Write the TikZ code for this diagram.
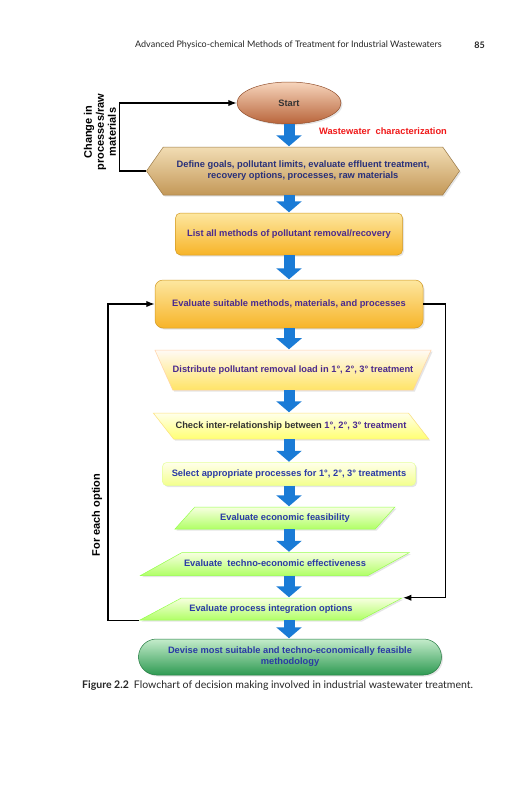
\documentclass[tikz,border=0pt]{standalone}
\usepackage{fontspec}
\setsansfont{Liberation Sans}
\newfontfamily\pagefont{Lato}
\usetikzlibrary{arrows.meta,positioning,shapes.geometric,shapes.symbols,shapes.misc,shadows}
\definecolor{arrowblue}{HTML}{1A7BD6}
\definecolor{navytext}{HTML}{28307A}
\definecolor{purpletext}{HTML}{4B2A8E}
\definecolor{bluetext}{HTML}{2A3AA5}
\definecolor{warnred}{HTML}{F01818}
\definecolor{starttop}{HTML}{F7D5BC}
\definecolor{startbot}{HTML}{B8643A}
\definecolor{goaltop}{HTML}{F2DDB4}
\definecolor{goalbot}{HTML}{C39858}
\definecolor{ambertop}{HTML}{FDE7A0}
\definecolor{amberbot}{HTML}{F7B428}
\definecolor{greentop}{HTML}{C4ECCB}
\definecolor{greenbot}{HTML}{2E9A52}

\begin{document}
\begin{tikzpicture}[x=1pt,y=-1pt,>=Latex, every node/.style={font=\sffamily\bfseries\fontsize{9.3}{11}\selectfont}]
\tikzstyle{pagetext}=[font=\pagefont\fontsize{9}{11}\selectfont,text=black!85,inner sep=0pt]
\tikzstyle{side}=[font=\sffamily\bfseries\fontsize{11}{12}\selectfont,rotate=90,align=center,inner sep=0pt]
\tikzstyle{stage}=[align=center,inner sep=1pt,line width=0.5pt,drop shadow={opacity=0.2,shadow xshift=1.5pt,shadow yshift=-1.5pt}]
\tikzstyle{orangebox}=[stage,rounded corners=5pt,draw=amberbot!85!black,top color=ambertop,bottom color=amberbot,text=purpletext]
\tikzstyle{slanted}=[stage,trapezium,trapezium stretches body,text height=7pt,text depth=2pt,inner xsep=2pt]
\tikzstyle{greenslant}=[slanted,draw=green!45!lime!70,top color=lime!12,bottom color=green!35!lime!60!white,text=bluetext]
\tikzstyle{flowarrow}=[draw=arrowblue,line width=11pt,-{Triangle[length=11pt,width=25pt]},shorten >=0.5pt]
\tikzstyle{loopline}=[draw=black,line width=1.2pt,->]

\useasboundingbox[fill=white] (0,0) rectangle (531,800);

% page furniture
\node[pagetext,anchor=west] (header) at (135,45) {Advanced Physico-chemical Methods of Treatment for Industrial Wastewaters};
\node[pagetext,anchor=east] (pageno) at (485,45) {\bfseries 85};

% flowchart
\node[stage,ellipse,minimum width=104,minimum height=42,draw=startbot!80!black,top color=starttop,bottom color=startbot,text=black!80] (start) at (289,103) {Start};
\node[text=warnred] (wwc) at (383,131) {Wastewater\ \ characterization};
\node[stage,signal,signal to=east and west,signal pointer angle=110,minimum width=313,minimum height=48,draw=goalbot!80!black,top color=goaltop,bottom color=goalbot,text=navytext] (goals) at (303,171) {Define goals, pollutant limits, evaluate effluent treatment,\\recovery options, processes, raw materials};
\node[orangebox,minimum width=227,minimum height=42] (list) at (289,234) {List all methods of pollutant removal/recovery};
\node[orangebox,rounded corners=8pt,minimum width=268,minimum height=48] (eval) at (289,304) {Evaluate suitable methods, materials, and processes};
\node[slanted,shape border rotate=180,trapezium left angle=66,trapezium right angle=66,inner ysep=15.5pt,inner xsep=0pt,minimum width=270,draw=orange!35,top color=orange!4!white,bottom color=orange!35!yellow!60!white,text=purpletext] (distr) at (293,370) {Distribute pollutant removal load in 1°, 2°, 3° treatment};
\node[slanted,trapezium left angle=128,trapezium right angle=52,inner ysep=8.5pt,minimum width=272,draw=yellow!60!orange!50,top color=yellow!8,bottom color=yellow!55!white,text=black!80] (check) at (291,426) {Check inter-relationship between \textcolor{purpletext}{1°, 2°, 3° treatment}};
\node[stage,rounded corners=4pt,minimum width=253,minimum height=23,draw=lime!40,top color=yellow!8,bottom color=lime!40!yellow!45!white,text=bluetext] (select) at (289,474) {Select appropriate processes for 1°, 2°, 3° treatments};
\node[greenslant,trapezium left angle=48,trapezium right angle=132,inner ysep=6.5pt,minimum width=220] (econ) at (285,518) {Evaluate economic feasibility};
\node[greenslant,trapezium left angle=29,trapezium right angle=151,inner ysep=7pt,minimum width=260] (techno) at (275,564) {Evaluate\ \ techno-economic effectiveness};
\node[greenslant,trapezium left angle=28,trapezium right angle=152,inner ysep=6.5pt,minimum width=262] (integ) at (271,609) {Evaluate process integration options};
\node[stage,rounded rectangle,minimum width=305,minimum height=36,draw=greenbot!80!black,top color=greentop,bottom color=greenbot,text=bluetext] (final) at (290,657) {Devise most suitable and techno-economically feasible\\methodology};

\foreach \a/\b in {start/goals,goals/list,list/eval,eval/distr,distr/check,check/select,select/econ,econ/techno,techno/integ,integ/final}
  \draw[flowarrow] (\a.south -| start) -- (\b.north -| start);

% feedback loops
\draw[loopline] (goals.west) -- ++(-27,0) |- (start.west);
\draw[loopline] (eval.east) -- ++(22,0) |- (integ.top right corner);
\draw[loopline] (integ.bottom left corner) -- ++(-31,0) |- (eval.west);
\node[side] (change) at (100,132) {Change in\\processes/raw\\materials};
\node[side] (each) at (97,515) {For each option};

% caption
\node[pagetext,anchor=west,font=\pagefont\fontsize{10.5}{12}\selectfont] (caption) at (82,686) {\bfseries Figure 2.2\ \ \mdseries Flowchart of decision making involved in industrial wastewater treatment.};
\end{tikzpicture}
\end{document}
